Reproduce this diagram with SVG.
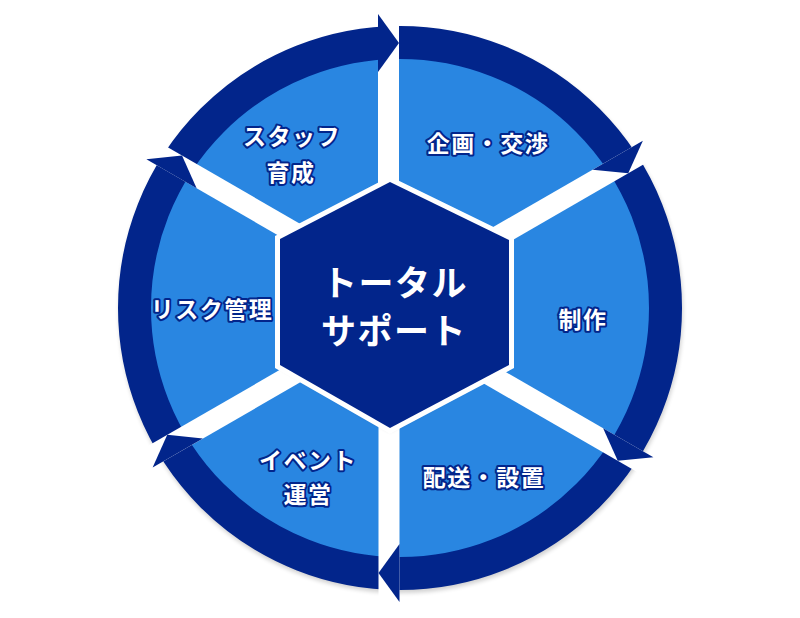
<svg xmlns="http://www.w3.org/2000/svg" width="800" height="618" viewBox="0 0 800 618">
<defs>
<filter id="blur" x="-20%" y="-20%" width="140%" height="140%"><feGaussianBlur stdDeviation="2"/></filter>
<style>
.lt{fill:#2986e1}
.ring{fill:none;stroke:#02258b;stroke-width:33}
.gap{fill:#ffffff}
.ah{fill:#02258b}
.lbl{font-family:"Noto Sans CJK JP","Noto Sans",sans-serif;font-size:23px;font-weight:700;fill:#ffffff;stroke:#02258b;stroke-width:4;stroke-linejoin:round;paint-order:stroke;text-anchor:middle;dominant-baseline:central;letter-spacing:1.5px}
.ctr{font-family:"Noto Sans CJK JP","Noto Sans",sans-serif;font-size:35px;font-weight:700;fill:#ffffff;text-anchor:middle;dominant-baseline:central;letter-spacing:1.5px}
</style>
</defs>
<rect width="800" height="618" fill="#ffffff"/>
<g id="wheel">
<circle cx="401" cy="311" r="282" fill="#000" opacity="0.18" filter="url(#blur)"/>
<circle class="lt" cx="400" cy="308" r="250"/>
</g>
<g id="connectors">
<circle class="ring" cx="400" cy="308" r="265.5"/>
<g transform="translate(400,308) rotate(-90) translate(0,-11.5)"><rect class="gap" x="60" y="-10.5" width="245" height="21"/><polygon class="ah" points="236,-10.5 294,-10.5 265,10.5"/></g>
<g transform="translate(400,308) rotate(-30) translate(0,-13)"><rect class="gap" x="60" y="-10.5" width="245" height="21"/><polygon class="ah" points="236,-10.5 294,-10.5 265,10.5"/></g>
<g transform="translate(400,308) rotate(30) translate(0,13)"><rect class="gap" x="60" y="-10.5" width="245" height="21"/><polygon class="ah" points="236,-10.5 294,-10.5 265,10.5"/></g>
<g transform="translate(400,308) rotate(90) translate(0,11)"><rect class="gap" x="60" y="-10.5" width="245" height="21"/><polygon class="ah" points="236,-10.5 294,-10.5 265,10.5"/></g>
<g transform="translate(400,308) rotate(150) translate(0,-4)"><rect class="gap" x="60" y="-10.5" width="245" height="21"/><polygon class="ah" points="236,-10.5 294,-10.5 265,10.5"/></g>
<g transform="translate(400,308) rotate(210) translate(0,12.5)"><rect class="gap" x="60" y="-10.5" width="245" height="21"/><polygon class="ah" points="236,-10.5 294,-10.5 265,10.5"/></g>
</g>
<g id="hub">
<polygon points="390,185 509,242 509,367 390,431 280,367 280,241" fill="#000" opacity="0.2" filter="url(#blur)"/>
<polygon points="390,182 509,240 509,365 390,428 280,365 280,239" fill="#ffffff" stroke="#ffffff" stroke-width="10" stroke-linejoin="miter"/>
<polygon points="390,182 509,240 509,365 390,428 280,365 280,239" fill="#02258b"/>
<text class="ctr" x="395" y="280">トータル</text>
<text class="ctr" x="394" y="328">サポート</text>
</g>
<g id="seg-staff"><text class="lbl" x="292" y="135">スタッフ</text><text class="lbl" x="291" y="171">育成</text></g>
<g id="seg-plan"><text class="lbl" x="488" y="142">企画・交渉</text></g>
<g id="seg-make"><text class="lbl" x="583" y="318">制作</text></g>
<g id="seg-deliver"><text class="lbl" x="484" y="476">配送・設置</text></g>
<g id="seg-event"><text class="lbl" x="308" y="459">イベント</text><text class="lbl" x="308" y="493">運営</text></g>
<g id="seg-risk"><text class="lbl" x="212" y="308">リスク管理</text></g>
</svg>
